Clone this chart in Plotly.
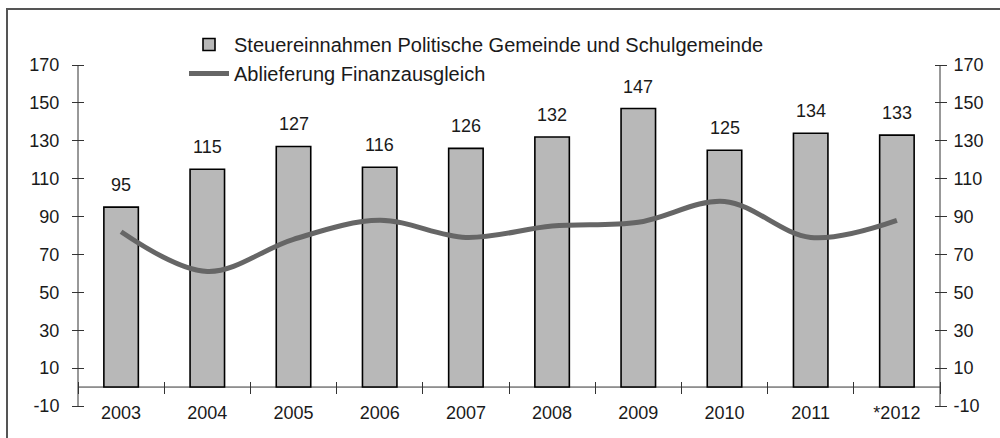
import plotly.graph_objects as go

years = ["2003", "2004", "2005", "2006", "2007", "2008", "2009", "2010", "2011", "*2012"]
steuer = [95, 115, 127, 116, 126, 132, 147, 125, 134, 133]
ablieferung = [82, 61, 78, 88, 79, 85, 87, 98, 79, 88]
tickvals = [-10, 10, 30, 50, 70, 90, 110, 130, 150, 170]
ticktext = ["-10", "10", "30", "50", "70", "90", "110", "130", "150", "170"]

name_bar = "Steuereinnahmen Politische Gemeinde und Schulgemeinde"
name_line = "Ablieferung Finanzausgleich"

W, H = 1000, 438
ML, MR, MT, MB = 78, 60, 65, 32
PW, PH = W - ML - MR, H - MT - MB


def px_x(p):
    return (p - ML) / PW


def px_y(p):
    return (H - MB - p) / PH


FONT = "Liberation Sans, Arial, sans-serif"
TXT = "#1a1a1a"
AX = "#333333"

fig = go.Figure()
fig.add_trace(go.Bar(
    x=years, y=steuer, name=name_bar,
    marker=dict(color="#b8b8b8", line=dict(color="#000000", width=1.6)),
    width=0.4, xaxis="x", yaxis="y",
))
fig.add_trace(go.Scatter(
    x=years, y=ablieferung, name=name_line, mode="lines",
    line=dict(color="#666666", width=5, shape="spline", smoothing=1.0),
    xaxis="x2", yaxis="y2",
))

for i, yv in enumerate(steuer):
    fig.add_annotation(x=i, y=yv, text=str(yv), showarrow=False,
                       yanchor="bottom", yshift=10, xref="x", yref="y",
                       font=dict(family=FONT, size=18, color=TXT))

yrange = [-10, 170]
common_y = dict(range=yrange, tickmode="array", tickvals=tickvals, ticktext=ticktext,
                showgrid=False, zeroline=False, showline=False,
                ticks="outside", ticklen=12, tickwidth=1, tickcolor=AX,
                tickfont=dict(family=FONT, size=18, color=TXT))

fig.update_layout(
    width=W, height=H,
    margin=dict(l=ML, r=MR, t=MT, b=MB, autoexpand=False),
    paper_bgcolor="white", plot_bgcolor="white",
    showlegend=True,
    legend=dict(x=px_x(184), y=px_y(25), xanchor="left", yanchor="top",
                font=dict(family=FONT, size=20, color=TXT),
                bgcolor="rgba(0,0,0,0)", itemwidth=40, tracegroupgap=0),
    xaxis=dict(type="category", categoryorder="array", categoryarray=years,
               range=[-0.5, 9.5], anchor="free", position=px_y(400),
               showline=False, ticks="", showgrid=False, zeroline=False,
               tickfont=dict(family=FONT, size=18, color=TXT)),
    xaxis2=dict(type="category", categoryorder="array", categoryarray=years,
                range=[-0.5, 9.5], overlaying="x", matches="x", anchor="free",
                position=px_y(381), showline=False, ticks="outside", ticklen=12,
                tickwidth=1, tickcolor=AX, tickson="boundaries",
                showticklabels=False, showgrid=False, zeroline=False),
    yaxis=dict(**common_y, anchor="free", position=px_x(84), side="left",
               ticklabelstandoff=9),
    yaxis2=dict(**common_y, anchor="free", position=px_x(934), side="right",
                overlaying="y", matches="y", ticklabelstandoff=3),
)

# zero baseline (category axis crossing at 0)
fig.add_hline(y=0, line=dict(color=AX, width=1), layer="below")

# vertical axis lines on both sides of the plot area
for xp in (0, 1):
    fig.add_shape(type="line", xref="paper", yref="paper", x0=xp, x1=xp, y0=0, y1=1,
                  line=dict(color=AX, width=1))

# outer frame of the chart picture
fig.add_shape(type="rect", xref="paper", yref="paper",
              x0=px_x(7), x1=px_x(1100), y0=px_y(9), y1=px_y(600),
              line=dict(color="#555555", width=2), fillcolor="rgba(0,0,0,0)")

fig.write_html("out.html", config={"displayModeBar": False},
               post_script="document.body.style.margin='0px';")
